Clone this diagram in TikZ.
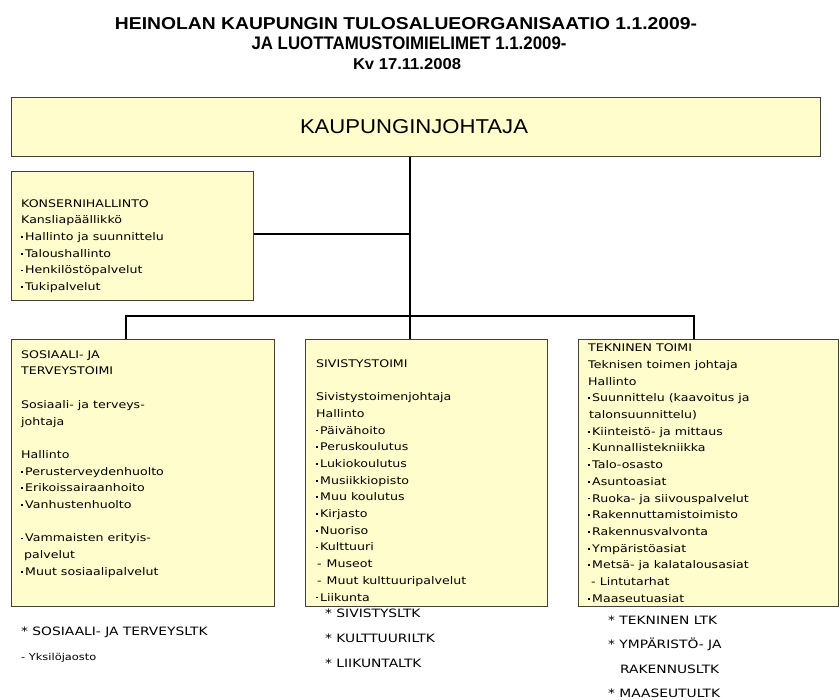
\documentclass[tikz,border=0pt]{standalone}
\usepackage{fontspec}
\usepackage{graphicx}
\setmainfont{Liberation Sans}
\newfontfamily\bodyfont[FakeStretch=1.2]{DejaVu Sans}
\definecolor{boxfill}{HTML}{FFFDCC}
\definecolor{boxline}{HTML}{404040}
\newcommand\mybul{\makebox[4pt][l]{\raisebox{2.6pt}{\rule{1.8pt}{1.8pt}}}}
\begin{document}
\begin{tikzpicture}[x=1pt,y=-1pt,
  box/.style={draw=boxline, line width=1.3pt, fill=boxfill, inner sep=0, anchor=north west},
  body/.style={anchor=north west, inner sep=0, align=left, font=\bodyfont\fontsize{10.5}{16.7}\selectfont},
  lbl/.style={anchor=base west, inner sep=0, font=\bodyfont\fontsize{11.5}{14}\selectfont},
  ttl/.style={anchor=base, inner sep=0, font=\bfseries},
  conn/.style={line width=2pt, black}]
\useasboundingbox (0,0) rectangle (840,700);
\fill[white] (0,0) rectangle (840,700);

% title
\node[ttl] (t1) at (406,29.3) {\resizebox{582pt}{12pt}{HEINOLAN KAUPUNGIN TULOSALUEORGANISAATIO 1.1.2009-}};
\node[ttl] (t2) at (409,50) {\resizebox{315pt}{12.7pt}{JA LUOTTAMUSTOIMIELIMET 1.1.2009-}};
\node[ttl] (t3) at (407,69.3) {\resizebox{108pt}{11pt}{Kv 17.11.2008}};

% boxes
\node[box, minimum width=809pt, minimum height=59pt] (top) at (11,97) {};
\node[box, minimum width=242pt, minimum height=129pt] (kons) at (11,171) {};
\node[box, minimum width=263pt, minimum height=267pt] (sos) at (11,339) {};
\node[box, minimum width=242pt, minimum height=267pt] (siv) at (305,339) {};
\node[box, minimum width=260pt, minimum height=267pt] (tek) at (578,339) {};

% connectors
\coordinate (jn) at (410,316);
\coordinate (b1) at (126,316);
\coordinate (b3) at (694,316);
\coordinate (ke) at ([yshift=2.5pt]kons.east);
\draw[conn] (top.south -| jn) -- (jn |- siv.north);
\draw[conn] (ke) -- (ke -| jn);
\draw[conn] (b1 |- sos.north) -- (b1) -- (b3) -- (b3 |- tek.north);

% top label
\node[anchor=base, inner sep=0] (topt) at (414,134) {\resizebox{228pt}{14pt}{KAUPUNGINJOHTAJA}};

% box texts
\node[body] (konst) at (21,195) {\rule{0pt}{12pt}KONSERNIHALLINTO\\
Kansliapäällikkö\\
\mybul Hallinto ja suunnittelu\\
\mybul Taloushallinto\\
\mybul Henkilöstöpalvelut\\
\mybul Tukipalvelut};

\node[body] (sost) at (21,346) {\rule{0pt}{12pt}SOSIAALI- JA\\
TERVEYSTOIMI\\[16.7pt]
Sosiaali- ja terveys-\\
johtaja\\[16.7pt]
Hallinto\\
\mybul Perusterveydenhuolto\\
\mybul Erikoissairaanhoito\\
\mybul Vanhustenhuolto\\[16.7pt]
\mybul Vammaisten erityis-\\
\hspace*{3pt}palvelut\\
\mybul Muut sosiaalipalvelut};

\node[body] (sivt) at (316,355) {\rule{0pt}{12pt}SIVISTYSTOIMI\\[16.7pt]
Sivistystoimenjohtaja\\
Hallinto\\
\mybul Päivähoito\\
\mybul Peruskoulutus\\
\mybul Lukiokoulutus\\
\mybul Musiikkiopisto\\
\mybul Muu koulutus\\
\mybul Kirjasto\\
\mybul Nuoriso\\
\mybul Kulttuuri\\
\hspace*{1pt}-\hspace*{5pt}Museot\\
\hspace*{1pt}-\hspace*{5pt}Muut kulttuuripalvelut\\
\mybul Liikunta};

\node[body] (tekt) at (588,339.5) {\rule{0pt}{12pt}TEKNINEN TOIMI\\
Teknisen toimen johtaja\\
Hallinto\\
\mybul Suunnittelu (kaavoitus ja\\
\hspace*{1pt}talonsuunnittelu)\\
\mybul Kiinteistö- ja mittaus\\
\mybul Kunnallistekniikka\\
\mybul Talo-osasto\\
\mybul Asuntoasiat\\
\mybul Ruoka- ja siivouspalvelut\\
\mybul Rakennuttamistoimisto\\
\mybul Rakennusvalvonta\\
\mybul Ympäristöasiat\\
\mybul Metsä- ja kalatalousasiat\\
\hspace*{3pt}- Lintutarhat\\
\mybul Maaseutuasiat};

% committee labels
\node[lbl] (l1) at (21,635.5) {* SOSIAALI- JA TERVEYSLTK};
\node[lbl, font=\bodyfont\fontsize{9.5}{12}\selectfont] (l2) at (21,660.5) {- Yksilöjaosto};
\node[lbl] (l3) at (325,617.8) {* SIVISTYSLTK};
\node[lbl] (l4) at (325,642.8) {* KULTTUURILTK};
\node[lbl] (l5) at (325,667.8) {* LIIKUNTALTK};
\node[lbl] (l6) at (608,624.5) {* TEKNINEN LTK};
\node[lbl] (l7) at (608,648.8) {* YMPÄRISTÖ- JA};
\node[lbl] (l8) at (620,673.1) {RAKENNUSLTK};
\node[lbl] (l9) at (608,697.4) {* MAASEUTULTK};
\end{tikzpicture}
\end{document}
